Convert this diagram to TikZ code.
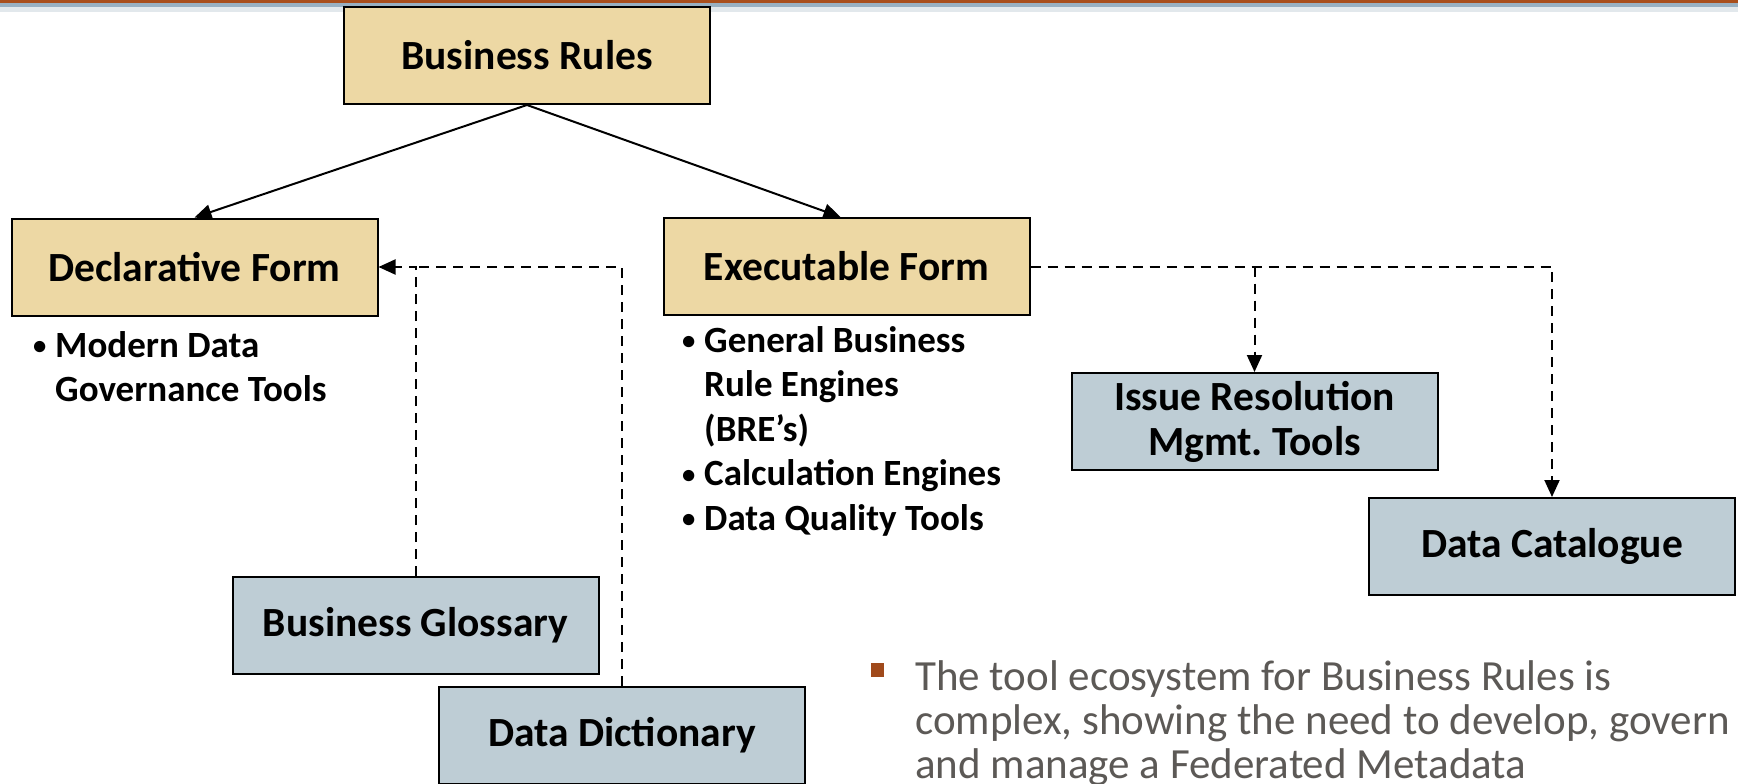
\documentclass[tikz,border=0pt]{standalone}
\usepackage{fontspec}
\setmainfont{Carlito}
\usepackage{tikz}
\usetikzlibrary{arrows.meta}
\usetikzlibrary{positioning}
\definecolor{formtan}{RGB}{237,216,164}
\definecolor{toolblue}{RGB}{190,205,213}
\definecolor{bodygray}{RGB}{92,89,86}
\definecolor{rustbar}{RGB}{168,78,28}
\definecolor{steelbar}{RGB}{152,176,194}
\definecolor{mistbar}{RGB}{226,232,236}
\newcommand{\dotmark}{\makebox[22pt][l]{\raisebox{2.5pt}{\scalebox{0.72}{\textbullet}}}}
\tikzset{
box/.style={rectangle,draw=black,line width=2pt,minimum width=366pt,minimum height=97pt,inner sep=0pt,align=center,font=\bfseries\fontsize{41.5}{45}\selectfont},
formbox/.style={box,fill=formtan},
toolbox/.style={box,fill=toolblue},
bullets/.style={inner sep=0pt,anchor=base west,font=\bfseries\fontsize{37}{44.5}\selectfont},
link/.style={black,line width=2pt,-{Triangle[length=17pt,width=15pt]}},
dashlink/.style={link,dash pattern=on 10pt off 7pt}
}

\begin{document}
\frenchspacing
\begin{tikzpicture}[x=1pt,y=-1pt]
    \useasboundingbox (0,0) rectangle (1738,784);
    % title bar
    \fill[rustbar] (0,0) rectangle (1738,3);
    \fill[steelbar] (0,3) rectangle (1738,7);
    \fill[mistbar] (0,7) rectangle (1738,12);
    %
    \node[formbox](rules) at (527,55.5) {Business Rules};
    \node[formbox](decl) at (194.5,267) {Declarative Form};
    \node[formbox](exec) at (846.5,266.5) {Executable Form};
    \node[toolbox](issue) at (1254.5,421.5) {Issue Resolution\\Mgmt. Tools};
    \node[toolbox](catalogue) at (1552,546.5) {Data Catalogue};
    \node[toolbox](glossary) at (415.5,625.5) {Business Glossary};
    \node[toolbox](dictionary) at (622,735) {Data Dictionary};
    %
    \node[bullets](decllist) at (33,357)
    {\begin{tabular}[t]{@{}l@{}l@{}}\dotmark & Modern Data\\ & Governance Tools\end{tabular}};
    \node[bullets](execlist) at (682,352)
    {\begin{tabular}[t]{@{}l@{}l@{}}\dotmark & General Business\\ & Rule Engines\\ & (BRE’s)\\
    \dotmark & Calculation Engines\\ \dotmark & Data Quality Tools\end{tabular}};
    %
    \draw[link] (rules.south) -- (decl.north);
    \draw[link] (rules.south) -- ([xshift=-6pt]exec.north);
    %
    \coordinate (join) at (glossary.north |- decl.east);
    \coordinate (split) at (exec.east -| issue.north);
    \draw[dashlink] (glossary.north) -- (join) -- (decl.east);
    \draw[dashlink,-] (dictionary.north) -- (dictionary.north |- decl.east) -- (join);
    \draw[dashlink] (exec.east) -- (exec.east -| catalogue.north) -- (catalogue.north);
    \draw[dashlink] (split) -- (issue.north);
    %
    \fill[rustbar!95!black] (871,663) rectangle (884,677);
    \node[inner sep=0pt,anchor=base west,align=left,text=bodygray,font=\fontsize{43}{44}\selectfont](note) at (915,778)
    {The tool ecosystem for Business Rules is\\complex, showing the need to develop, govern\\and manage a Federated Metadata};
\end{tikzpicture}
\end{document}
